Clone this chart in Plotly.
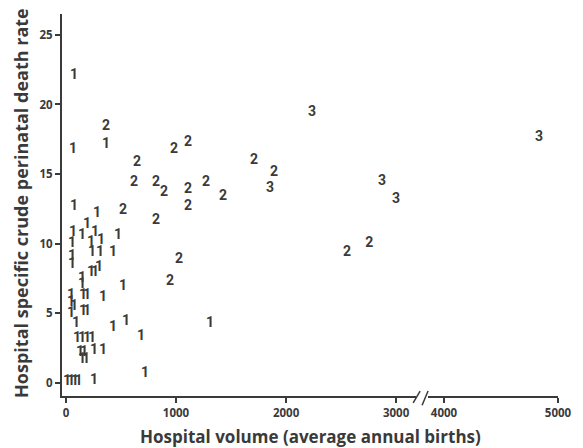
import plotly.graph_objects as go

# Hospital volume (average annual births), perinatal death rate, and volume category label
volume = [73, 64, 364, 73, 282,
          64, 145, 191, 264, 318, 227, 473,
          55, 236, 309, 427, 55, 55,
          227, 264, 300, 145, 145, 518,
          45, 155, 191, 336, 45, 73, 155, 191, 45, 91,
          427, 545, 682, 100, 145, 191, 236, 255, 336, 127, 164, 145, 182,
          10, 45, 80, 115, 255, 718, 1309,
          364, 982, 1109, 645, 618, 818, 891, 1109, 1273, 1427, 1109, 518, 818,
          1709, 1891, 2555, 2755, 1027, 945,
          2236, 1855, 2873, 3000, 4833]
rate = [22.1, 16.8, 17.1, 12.7, 12.2,
        10.8, 10.6, 11.4, 10.8, 10.2, 10.1, 10.6,
        10.0, 9.4, 9.4, 9.4, 9.1, 8.5,
        7.9, 7.9, 8.3, 7.5, 7.1, 6.9,
        6.3, 6.3, 6.3, 6.1, 5.8, 5.5, 5.1, 5.1, 5.0, 4.3,
        4.0, 4.4, 3.3, 3.2, 3.2, 3.2, 3.2, 2.3, 2.3, 2.2, 2.2, 1.7, 1.7,
        0.1, 0.1, 0.1, 0.1, 0.2, 0.7, 4.3,
        18.4, 16.8, 17.3, 15.8, 14.4, 14.4, 13.7, 13.9, 14.4, 13.4, 12.7, 12.4, 11.7,
        16.0, 15.1, 9.4, 10.0, 8.9, 7.3,
        19.4, 14.0, 14.5, 13.2, 17.6]
level = (["1"] * 54) + (["2"] * 19) + (["3"] * 5)

left_ticks = [0, 1000, 2000, 3000]
right_ticks = [4000, 5000]
y_ticks = [0, 5, 10, 15, 20, 25]
BREAK = 3500

ink = "#3a3a3a"
mark_font = dict(family="Roboto, Noto Sans, sans-serif", size=14, color=ink, weight=700)
tick_font = dict(family="Open Sans, DejaVu Sans, sans-serif", size=11.5, color=ink, weight=700)
xtitle_font = dict(family="Open Sans, DejaVu Sans, sans-serif", size=17, color=ink, weight=700)
ytitle_font = dict(family="Open Sans, DejaVu Sans, sans-serif", size=18, color=ink, weight=700)

lx = [v for v in volume if v < BREAK]
ly = [r for v, r in zip(volume, rate) if v < BREAK]
lt = [t for v, t in zip(volume, level) if v < BREAK]
rx = [v for v in volume if v >= BREAK]
ry = [r for v, r in zip(volume, rate) if v >= BREAK]
rt = [t for v, t in zip(volume, level) if v >= BREAK]

fig = go.Figure()
fig.add_trace(go.Scatter(x=lx, y=ly, text=lt, mode="text", textfont=mark_font,
                         xaxis="x", yaxis="y", showlegend=False, hoverinfo="skip"))
fig.add_trace(go.Scatter(x=rx, y=ry, text=rt, mode="text", textfont=mark_font,
                         xaxis="x2", yaxis="y", showlegend=False, hoverinfo="skip"))

axis_common = dict(showgrid=False, zeroline=False, showline=True, linecolor=ink,
                   linewidth=2, ticks="outside", ticklen=5, tickwidth=1.5,
                   tickcolor=ink, tickfont=tick_font)

fig.update_layout(
    width=583, height=448,
    margin=dict(l=62, r=25, t=14, b=52),
    paper_bgcolor="white", plot_bgcolor="white",
    xaxis=dict(domain=[0, 0.714], range=[-36, 3182], tickvals=left_ticks,
               anchor="y", **axis_common),
    xaxis2=dict(domain=[0.738, 1], range=[3860, 5000], tickvals=right_ticks,
                anchor="y", **axis_common),
    yaxis=dict(range=[-0.94, 26.5], tickvals=y_ticks, anchor="x", **axis_common),
    annotations=[
        dict(text="Hospital volume (average annual births)", xref="paper", yref="paper",
             x=0.5, y=-0.105, xanchor="center", yanchor="middle", showarrow=False,
             font=xtitle_font),
        dict(text="Hospital specific crude perinatal death rate", xref="paper", yref="paper",
             x=-0.083, y=0.505, xanchor="center", yanchor="middle", textangle=-90,
             showarrow=False, font=ytitle_font),
    ],
    shapes=[
        dict(type="line", xref="paper", yref="paper", x0=0.708, y0=-0.018, x1=0.722, y1=0.013,
             line=dict(color=ink, width=1.5)),
        dict(type="line", xref="paper", yref="paper", x0=0.726, y0=-0.024, x1=0.738, y1=0.013,
             line=dict(color=ink, width=1.5)),
    ],
)

fig.write_html("out.html", post_script="document.body.style.margin='0';",
               config={"displayModeBar": False})
